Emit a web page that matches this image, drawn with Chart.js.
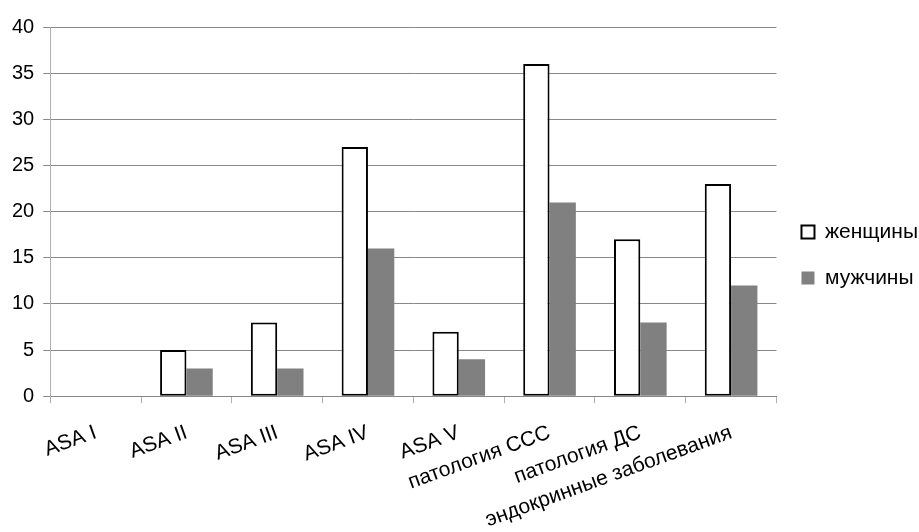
<!DOCTYPE html>
<html>
<head>
<meta charset="utf-8">
<script src="https://cdn.jsdelivr.net/npm/chart.js@4/dist/chart.umd.min.js"></script>
<style>
    html, body { margin: 0; padding: 0; background: #fff; }
    #wrap { width: 919px; height: 532px; }
</style>
</head>
<body>
<div id="wrap"><canvas id="chartPacientes" width="919" height="532"></canvas></div>
<script>
// Datos
const categorias = ["ASA I", "ASA II", "ASA III", "ASA IV", "ASA V", "патология ССС", "патология ДС", "эндокринные заболевания"];
const zhenshchiny = [0, 5, 8, 27, 7, 36, 17, 23];
const muzhchiny = [0, 3, 3, 16, 4, 21, 8, 12];
const ticksY = [0, 5, 10, 15, 20, 25, 30, 35, 40];

const fuente = "'Liberation Sans', Arial, sans-serif";

// sube un poco la leyenda (en el original no está centrada en el lienzo)
const subirLeyenda = {
    id: 'subirLeyenda',
    afterLayout(chart) {
        if (!chart.legend) return;
        chart.legend.top -= 32;
        chart.legend.bottom -= 32;
    }
};

new Chart(document.getElementById('chartPacientes'), {
    type: 'bar',
    data: {
        labels: categorias,
        datasets: [{
            label: 'женщины',
            data: zhenshchiny,
            backgroundColor: '#ffffff',
            borderColor: '#000000',
            borderWidth: 2,
            borderSkipped: false,
            categoryPercentage: 0.58,
            barPercentage: 1
        }, {
            label: 'мужчины',
            data: muzhchiny,
            backgroundColor: '#808080',
            borderWidth: 0,
            categoryPercentage: 0.58,
            barPercentage: 1
        }]
    },
    plugins: [subirLeyenda],
    options: {
        responsive: false,
        animation: false,
        layout: { padding: { top: 27, right: -9, left: 3, bottom: -15 } },
        plugins: {
            tooltip: { enabled: false },
            legend: {
                position: 'right',
                labels: {
                    color: '#000',
                    font: { family: fuente, size: 21 },
                    boxWidth: 13,
                    boxHeight: 13,
                    padding: 25
                }
            }
        },
        scales: {
            x: {
                afterFit: axis => { axis.height -= 3; },
                grid: {
                    offset: true,
                    drawOnChartArea: false,
                    color: '#b0b0b0',
                    tickLength: 7
                },
                border: { color: '#888888' },
                ticks: {
                    color: '#000',
                    font: { family: fuente, size: 21 },
                    minRotation: 20,
                    maxRotation: 20,
                    autoSkip: false,
                    padding: 17
                }
            },
            y: {
                min: 0,
                max: 40,
                afterBuildTicks: axis => { axis.ticks = ticksY.map(v => ({ value: v })); },
                grid: { color: '#888888', tickLength: 7 },
                border: { color: '#b0b0b0' },
                ticks: {
                    color: '#000',
                    font: { family: fuente, size: 20 },
                    padding: 9
                }
            }
        }
    }
});
</script>
</body>
</html>
